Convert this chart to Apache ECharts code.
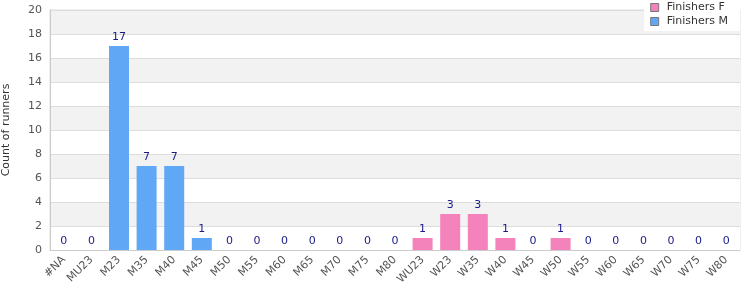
<!DOCTYPE html>
<html><head><meta charset="utf-8">
<script src="https://cdn.jsdelivr.net/npm/echarts@6/dist/echarts.min.js"></script>
<style>html,body{margin:0;padding:0;background:#fff}#c{width:750px;height:300px}</style>
</head><body><div id="c"></div>
<script>
const categories = ['#NA','MU23','M23','M35','M40','M45','M50','M55','M60','M65','M70','M75','M80','WU23','W23','W35','W40','W45','W50','W55','W60','W65','W70','W75','W80'];
const finishersM = [0,0,17,7,7,1,0,0,0,0,0,0,0,'-','-','-','-','-','-','-','-','-','-','-','-'];
const finishersF = ['-','-','-','-','-','-','-','-','-','-','-','-','-',1,3,3,1,0,1,0,0,0,0,0,0];
const yTicks = [0,2,4,6,8,10,12,14,16,18,20];

const chart = echarts.init(document.getElementById('c'));
const labelCfg = {show:true, position:'top', color:'#1a1a8a', fontSize:11, fontFamily:'DejaVu Sans', distance:3};
const sq = 'path://M0,0H10V10H0Z';
chart.setOption({
  animation:false,
  textStyle:{fontFamily:'DejaVu Sans'},
  grid:{left:50, right:10, top:10, bottom:50, show:true, borderColor:'#dddddd', borderWidth:1, outerBoundsMode:'none', containLabel:false},
  legend:{
    orient:'vertical', right:10, top:0, itemWidth:14, itemHeight:8, itemGap:3,
    backgroundColor:'#ffffff', padding:[2,12,4,6],
    textStyle:{fontSize:11, color:'#333', fontFamily:'DejaVu Sans'},
    data:[{name:'Finishers F', icon:sq, itemStyle:{borderColor:'#777', borderWidth:1}},{name:'Finishers M', icon:sq, itemStyle:{borderColor:'#777', borderWidth:1}}]
  },
  xAxis:{
    type:'category', data:categories,
    axisLine:{lineStyle:{color:'#cccccc'}}, axisTick:{show:false},
    axisLabel:{rotate:45, interval:0, color:'#555', fontSize:11, fontFamily:'DejaVu Sans', margin:8}
  },
  yAxis:{
    type:'value', min:yTicks[0], max:yTicks[yTicks.length-1], interval:2,
    name:'Count of runners', nameLocation:'middle', nameGap:38, nameRotate:90,
    nameTextStyle:{fontSize:11, color:'#333', fontFamily:'DejaVu Sans'},
    axisLine:{show:true, lineStyle:{color:'#cccccc'}}, axisTick:{show:false},
    axisLabel:{color:'#555', fontSize:11, fontFamily:'DejaVu Sans', margin:8},
    splitLine:{lineStyle:{color:'#dddddd'}},
    splitArea:{show:true, areaStyle:{color:['#ffffff','#f2f2f2']}}
  },
  series:[
    {name:'Finishers F', type:'bar', stack:'a', data:finishersF, barWidth:20, itemStyle:{color:'#f482bb'}, label:labelCfg},
    {name:'Finishers M', type:'bar', stack:'a', data:finishersM, barWidth:20, itemStyle:{color:'#60a8f5'}, label:labelCfg}
  ]
});
</script></body></html>
